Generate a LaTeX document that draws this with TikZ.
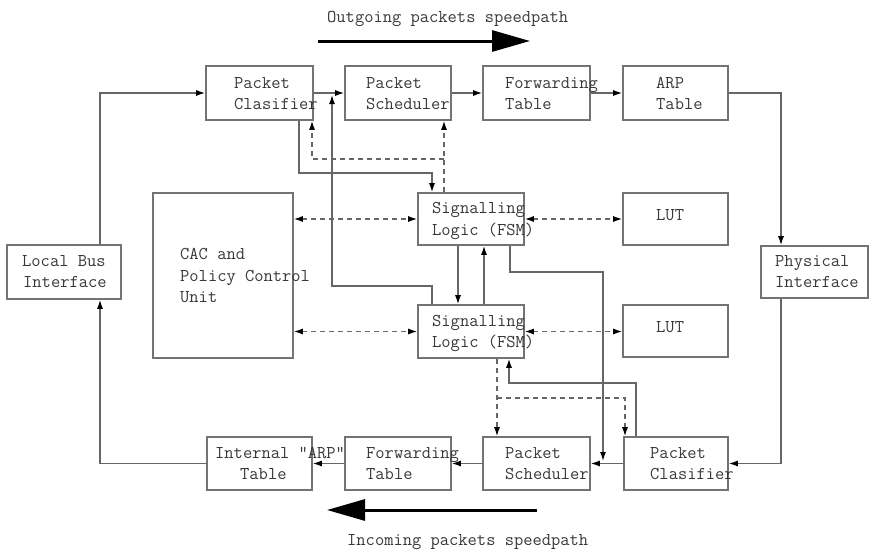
\documentclass[tikz,border=0pt]{standalone}
\usetikzlibrary{arrows.meta,fit}
\begin{document}
\begin{tikzpicture}[x=1pt,y=-1pt,
  box/.style={draw=black!55, line width=1.6pt, inner sep=0pt},
  lbl/.style={font=\fontsize{18}{21}\selectfont\ttfamily, text=black!78, inner sep=0pt, anchor=base west},
  conn/.style={draw=black!60, line width=1.3pt, -{Latex[length=9pt,width=6pt,color=black]}},
  dconn/.style={conn, dash pattern=on 5pt off 4pt},
  dbi/.style={draw=black!60, line width=1.3pt, dash pattern=on 5pt off 4pt, {Latex[length=9pt,width=6pt,color=black]}-{Latex[length=9pt,width=6pt,color=black]}},
  speed/.style={draw=black, line width=3pt, -{Triangle[length=38pt,width=21pt]}}
]
\useasboundingbox (0,0) rectangle (869,549);

% boxes
\node[box, fit={(206,66) (313,120)}] (pc1) {};
\node[box, fit={(345,66) (451,120)}] (ps1) {};
\node[box, fit={(483,66) (590,120)}] (ft1) {};
\node[box, fit={(623,66) (728,120)}] (arp) {};
\node[box, fit={(418,193) (524,245)}] (sl1) {};
\node[box, fit={(418,305) (524,358)}] (sl2) {};
\node[box, fit={(623,193) (728,245)}] (lut1) {};
\node[box, fit={(623,305) (728,357)}] (lut2) {};
\node[box, fit={(761,246) (868,298)}] (phy) {};
\node[box, fit={(7,245) (121,299)}] (lbi) {};
\node[box, fit={(153,193) (293,358)}] (cac) {};
\node[box, fit={(207,437) (312,490)}] (iat) {};
\node[box, fit={(345,437) (451,490)}] (ft2) {};
\node[box, fit={(483,437) (590,490)}] (ps2) {};
\node[box, fit={(624,437) (728,490)}] (pc2) {};

% labels
\node[lbl] (pc1a) at (234,88) {Packet};
\node[lbl] (pc1b) at (234,109) {Clasifier};
\node[lbl] (ps1a) at (366,88) {Packet};
\node[lbl] (ps1b) at (366,109) {Scheduler};
\node[lbl] (ft1a) at (505,88) {Forwarding};
\node[lbl] (ft1b) at (505,109) {Table};
\node[lbl] (arpa) at (656,88) {ARP};
\node[lbl] (arpb) at (656,109) {Table};
\node[lbl] (sl1a) at (432,213) {Signalling};
\node[lbl] (sl1b) at (432,235) {Logic (FSM)};
\node[lbl] (sl2a) at (432,326) {Signalling};
\node[lbl] (sl2b) at (432,347) {Logic (FSM)};
\node[lbl] (lut1a) at (656,220) {LUT};
\node[lbl] (lut2a) at (656,332) {LUT};
\node[lbl] (phya) at (775,266) {Physical};
\node[lbl] (phyb) at (775,287) {Interface};
\node[lbl] (lbia) at (22,266) {Local Bus};
\node[lbl] (lbib) at (23,287) {Interface};
\node[lbl] (caca) at (180,259) {CAC and};
\node[lbl] (cacb) at (180,281) {Policy Control};
\node[lbl] (cacc) at (180,302) {Unit};
\node[lbl] (iata) at (215,458) {Internal "ARP"};
\node[lbl] (iatb) at (240,479) {Table};
\node[lbl] (ft2a) at (366,458) {Forwarding};
\node[lbl] (ft2b) at (366,479) {Table};
\node[lbl] (ps2a) at (505,458) {Packet};
\node[lbl] (ps2b) at (505,479) {Scheduler};
\node[lbl] (pc2a) at (650,458) {Packet};
\node[lbl] (pc2b) at (650,479) {Clasifier};
\node[lbl] (outt) at (327,22) {Outgoing packets speedpath};
\node[lbl] (inct) at (347,545) {Incoming packets speedpath};

% speedpath arrows
\coordinate (outs) at (318,41);
\coordinate (oute) at (530,41);
\coordinate (ins) at (537,510);
\coordinate (ine) at (327,510);
\draw[speed] (outs) -- (oute);
\draw[speed] (ins) -- (ine);

% outgoing chain
\draw[conn] (100,0 |- lbi.north) |- (pc1.west);
\draw[conn] (pc1.east) -- (ps1.west);
\draw[conn] (ps1.east) -- (ft1.west);
\draw[conn] (ft1.east) -- (arp.west);
\draw[conn] (arp.east) -| (781,0 |- phy.north);

% incoming chain
\draw[conn] (781,0 |- phy.south) |- (pc2.east);
\draw[conn] (pc2.west) -- (ps2.east);
\draw[conn] (ps2.west) -- (ft2.east);
\draw[conn] (ft2.west) -- (iat.east);
\draw[conn] (iat.west) -| (100,0 |- lbi.south);

% top classifier -> signalling 1
\coordinate (b1) at (299,173);
\coordinate (b2) at (432,173);
\draw[conn] (299,0 |- pc1.south) -- (b1) -- (b2) -- (432,0 |- sl1.north);

% dashed signalling 1 -> scheduler / classifier
\coordinate (d1) at (444,159);
\coordinate (d2) at (312,159);
\draw[dconn] (444,0 |- sl1.north) -- (444,0 |- ps1.south);
\draw[dconn] (d1) -- (d2) -- (312,0 |- pc1.south);

% signalling 2 -> link between top classifier and scheduler
\coordinate (e1) at (432,286);
\coordinate (e2) at (332,286);
\coordinate (e3) at (332,95);
\draw[conn] (432,0 |- sl2.north) -- (e1) -- (e2) -- (e3);

% between signalling logics
\draw[conn] (458,0 |- sl1.south) -- (458,0 |- sl2.north);
\draw[conn] (484,0 |- sl2.north) -- (484,0 |- sl1.south);

% dashed bidirectional
\draw[dbi] (cac.east |- sl1.west) -- (sl1.west);
\draw[dbi] (cac.east |- sl2.west) -- (sl2.west);
\draw[dbi] (sl1.east) -- (lut1.west |- sl1.east);
\draw[dbi] (sl2.east) -- (lut2.west |- sl2.east);

% signalling 1 -> link between bottom classifier and scheduler
\coordinate (f1) at (510,272);
\coordinate (f2) at (603,272);
\coordinate (f3) at (603,461);
\draw[conn] (510,0 |- sl1.south) -- (f1) -- (f2) -- (f3);

% bottom classifier -> signalling 2
\coordinate (g1) at (636,383);
\coordinate (g2) at (509,383);
\draw[conn] (636,0 |- pc2.north) -- (g1) -- (g2) -- (509,0 |- sl2.south);

% dashed signalling 2 -> bottom scheduler / classifier
\coordinate (h1) at (497,398);
\coordinate (h2) at (625,398);
\draw[dconn] (497,0 |- sl2.south) -- (497,0 |- ps2.north);
\draw[dconn] (h1) -- (h2) -- (625,0 |- pc2.north);
\end{tikzpicture}
\end{document}
